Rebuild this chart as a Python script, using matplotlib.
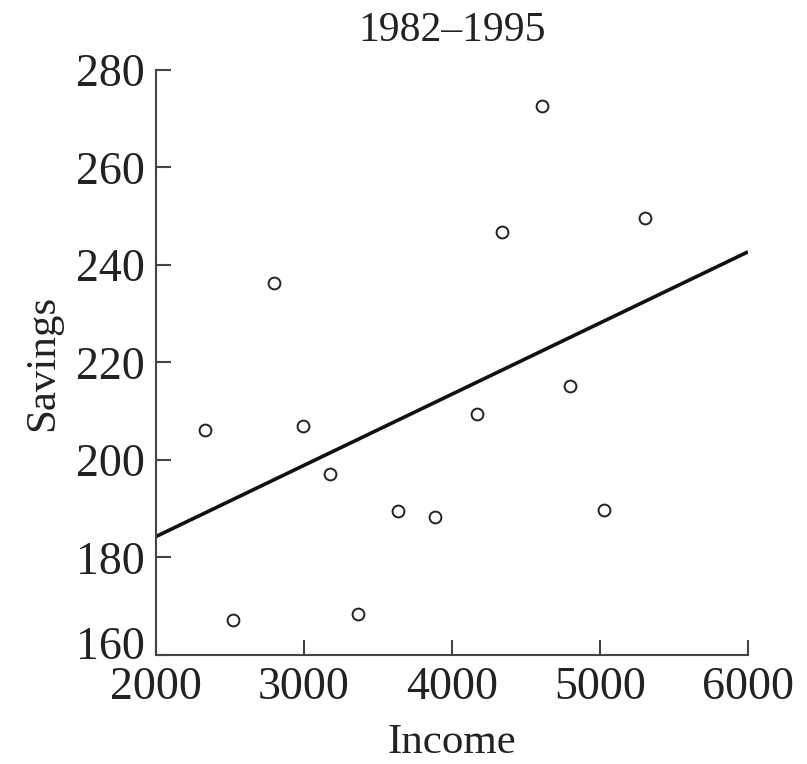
import matplotlib
matplotlib.use("Agg")
from matplotlib import pyplot as plt
import matplotlib.transforms as mtransforms

# data
income = [2332, 2521, 2799, 2995, 3178, 3367, 3638, 3888, 4166, 4335, 4606, 4795, 5025, 5303]
savings = [206.2, 167.2, 236.3, 207.0, 197.1, 168.4, 189.5, 188.3, 209.4, 246.8, 272.6, 215.2, 189.7, 249.6]
fit_x = [2000, 6000]
fit_y = [184.3, 242.7]
xticks = [2000, 3000, 4000, 5000, 6000]
yticks = [160, 180, 200, 220, 240, 260, 280]

plt.rcParams['font.family'] = ['Liberation Serif', 'DejaVu Serif']

fig = plt.figure(figsize=(8.07, 7.64), dpi=100)
ax = fig.add_axes([0.1933, 0.1427, 0.7336, 0.7657])
ax.plot(fit_x, fit_y, color='#111111', lw=2.6, solid_capstyle='butt')
ax.plot(income, savings, 'o', mfc='white', mec='#222222', ms=8.5, mew=1.4)

ax.set_xlim(2000, 6000)
ax.set_ylim(160, 280)
ax.set_xticks(xticks)
ax.set_yticks(yticks)
for s in ['top', 'right']:
    ax.spines[s].set_visible(False)
for s in ['left', 'bottom']:
    ax.spines[s].set_linewidth(1.5)
    ax.spines[s].set_color('#444444')
ax.tick_params(direction='in', length=11, width=1.5, color='#444444',
               labelsize=33, labelcolor='#222222', pad=8)

# lowest y label sits a bit higher, as in the original
lab = ax.get_yticklabels()[0]
lab.set_transform(lab.get_transform() + mtransforms.ScaledTranslation(0, 12/100, fig.dpi_scale_trans))

ax.set_xlabel('Income', fontsize=31, color='#222222', labelpad=11)
ax.set_ylabel('Savings', fontsize=31, color='#222222', labelpad=10)
ax.set_title('1982–1995', fontsize=30, color='#222222', pad=21)

fig.savefig('out.png', dpi=100)
